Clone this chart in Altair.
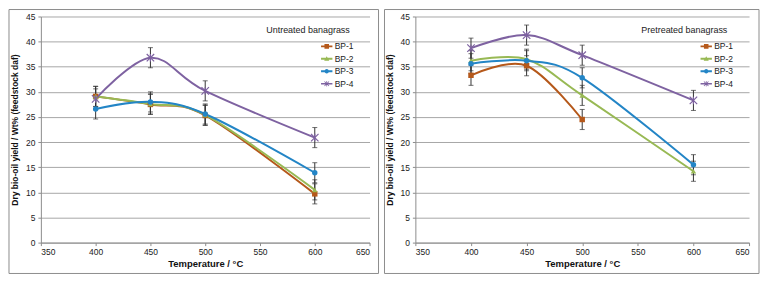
import altair as alt
import pandas as pd

temps = [400, 450, 500, 600]
series_names = ["BP-1", "BP-2", "BP-3", "BP-4"]
colors = ["#B5581A", "#98B954", "#2385C6", "#7E62A1"]

# Untreated banagrass (left panel)
untreated = {
    "BP-1": [29.1, 27.5, 25.3, 9.7],
    "BP-2": [29.1, 27.6, 25.4, 10.5],
    "BP-3": [26.6, 28.0, 25.6, 13.9],
    "BP-4": [28.6, 36.8, 30.2, 20.9],
}
untreated_err = {
    "BP-1": [2.0, 2.0, 2.0, 2.0],
    "BP-2": [2.0, 2.0, 2.0, 2.0],
    "BP-3": [2.0, 2.0, 2.0, 2.0],
    "BP-4": [2.0, 2.0, 2.0, 2.0],
}
# Pretreated banagrass (right panel)
pretreated = {
    "BP-1": [33.3, 35.2, 24.5, None],
    "BP-2": [36.2, 36.5, 29.3, 14.2],
    "BP-3": [35.6, 36.2, 32.8, 15.5],
    "BP-4": [38.7, 41.3, 37.3, 28.3],
}
pretreated_err = {
    "BP-1": [2.0, 2.0, 2.0, None],
    "BP-2": [2.0, 2.0, 2.0, 2.0],
    "BP-3": [2.0, 2.0, 2.0, 2.0],
    "BP-4": [2.0, 2.0, 2.0, 2.0],
}

x_ticks = [350, 400, 450, 500, 550, 600, 650]
y_ticks = [0, 5, 10, 15, 20, 25, 30, 35, 40, 45]

FONT = "Liberation Sans, Arial, sans-serif"
AXIS_GRAY = "#8C8C8C"


def to_df(vals, errs):
    rows = []
    for s in series_names:
        for t, v, e in zip(temps, vals[s], errs[s]):
            if v is None:
                continue
            rows.append({"series": s, "temp": t, "y": v, "lo": v - e, "hi": v + e})
    return pd.DataFrame(rows)


legend_paths = [
    "M-1,-0.17H1V0.17H-1Z M-0.4,-0.4H0.4V0.4H-0.4Z",
    "M-1,-0.17H1V0.17H-1Z M0,-0.45L0.45,0.35H-0.45Z",
    "M-1,-0.17H1V0.17H-1Z M-0.4,0A0.4,0.4 0 1,1 0.4,0A0.4,0.4 0 1,1 -0.4,0Z",
    "M-1,-0.12H1V0.12H-1Z M-0.45,-0.35L-0.35,-0.45L0.45,0.35L0.35,0.45Z "
    "M0.35,-0.45L0.45,-0.35L-0.35,0.45L-0.45,0.35Z M-0.06,-0.5H0.06V0.5H-0.06Z",
]


def panel(df, label, w, h, legend_x, legend_y, box_left, box_right, label_x, label_y):
    xs = alt.Scale(domain=[350, 650], nice=False, zero=False)
    ys = alt.Scale(domain=[0, 45], nice=False)
    xaxis = alt.Axis(values=x_ticks, title="Temperature / °C", grid=False,
                     tickSize=3, labelPadding=2, titlePadding=2, labelOverlap=False)
    yaxis = alt.Axis(values=y_ticks, title="Dry bio-oil yield / Wt% (feedstock daf)",
                     grid=True, tickSize=3, labelPadding=3, titlePadding=6,
                     labelOverlap=False)
    X = alt.X("temp:Q", scale=xs, axis=xaxis)
    cscale = alt.Scale(domain=series_names, range=colors)

    box = alt.Chart(pd.DataFrame({"k": [0]})).mark_rect(
        fill=None, stroke=AXIS_GRAY, strokeWidth=1
    ).encode(x=alt.value(box_left), x2=alt.value(w + box_right),
             y=alt.value(-7), y2=alt.value(h + 31))

    base = alt.Chart(df)
    line = base.mark_line(interpolate="cardinal", strokeWidth=2).encode(
        x=X, y=alt.Y("y:Q", scale=ys, axis=yaxis),
        color=alt.Color("series:N", scale=cscale, legend=None),
    )
    err = base.mark_rule(color="#333333", strokeWidth=1).encode(
        x=X, y=alt.Y("lo:Q", scale=ys, axis=yaxis), y2="hi:Q")
    cap_lo = base.mark_tick(color="#333333", thickness=1, size=5, orient="horizontal").encode(
        x=X, y=alt.Y("lo:Q", scale=ys, axis=yaxis))
    cap_hi = base.mark_tick(color="#333333", thickness=1, size=5, orient="horizontal").encode(
        x=X, y=alt.Y("hi:Q", scale=ys, axis=yaxis))
    pts = base.transform_filter(alt.datum.series != "BP-4").mark_point(
        filled=True, opacity=1, size=30
    ).encode(
        x=X, y=alt.Y("y:Q", scale=ys, axis=yaxis),
        color=alt.Color("series:N", scale=cscale, legend=None),
        shape=alt.Shape("series:N", scale=alt.Scale(domain=series_names[:3],
                        range=["square", "triangle-up", "circle"]), legend=None),
    )
    stars = base.transform_filter(alt.datum.series == "BP-4").mark_point(
        filled=False, opacity=1, size=56, strokeWidth=1.2, color=colors[3],
        shape="M-1,-1L1,1M-1,1L1,-1M0,-1L0,1",
    ).encode(x=X, y=alt.Y("y:Q", scale=ys, axis=yaxis))

    leg_spec = alt.Legend(orient="none", legendX=legend_x, legendY=legend_y, title=None,
                          symbolSize=130, symbolStrokeWidth=0, labelFontSize=8.5,
                          labelOffset=2, rowPadding=1.5, labelFont=FONT, labelColor="#222")
    leg = base.transform_filter("false").mark_point(filled=True, opacity=1).encode(
        x=X, y=alt.Y("y:Q", scale=ys, axis=yaxis),
        color=alt.Color("series:N", scale=cscale, legend=leg_spec),
        shape=alt.Shape("series:N", scale=alt.Scale(domain=series_names, range=legend_paths),
                        legend=leg_spec),
    )
    txt = alt.Chart(pd.DataFrame({"t": [label]})).mark_text(
        align="right", baseline="middle", fontSize=9, font=FONT, color="#222"
    ).encode(x=alt.datum(label_x, scale=xs, axis=xaxis),
             y=alt.datum(label_y, scale=ys, axis=yaxis), text="t:N")

    return alt.layer(box, line, err, cap_lo, cap_hi, pts, stars, leg, txt).resolve_scale(
        color="independent", shape="independent"
    ).properties(width=w, height=h)


left = panel(to_df(untreated, untreated_err), "Untreated banagrass",
             330, 227, 281, 24, -32, 9, 632, 42.3)
right = panel(to_df(pretreated, pretreated_err), "Pretreated banagrass",
              335, 227, 286, 24, -31, 10, 630.5, 42.4)

chart = alt.hconcat(left, right, spacing=4).properties(padding=0).configure(
    font=FONT
).configure_view(stroke=None).configure_axis(
    labelFont=FONT, titleFont=FONT, labelFontSize=8.5, titleFontSize=9.5,
    titleFontWeight="bold", labelColor="#222", titleColor="#111",
    domainColor=AXIS_GRAY, tickColor=AXIS_GRAY, gridColor="#A6A6A6",
).configure_axisY(titleFontSize=8.5)

chart.save("out.html", embed_options={"renderer": "svg", "actions": False})
